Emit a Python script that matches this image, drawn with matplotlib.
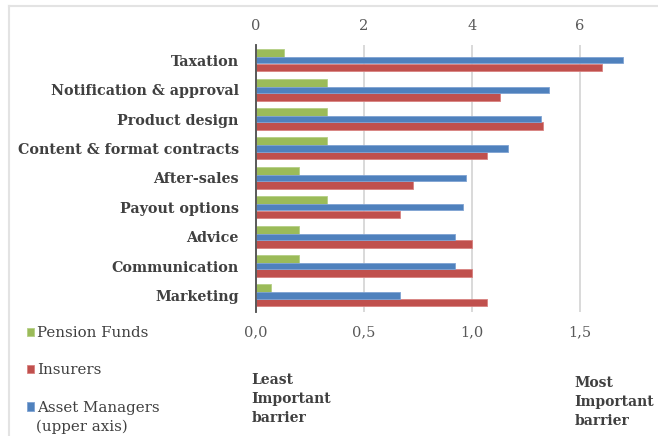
import numpy as np
import matplotlib
matplotlib.use("Agg")
import matplotlib.pyplot as plt
from matplotlib.lines import Line2D
from matplotlib.ticker import FuncFormatter

# barrier scores per provider type (Taxation first)
barriers = ['Taxation', 'Notification & approval', 'Product design',
            'Content & format contracts', 'After-sales', 'Payout options',
            'Advice', 'Communication', 'Marketing']
pension_funds = [0.13, 0.33, 0.33, 0.33, 0.20, 0.33, 0.20, 0.20, 0.07]
insurers = [1.60, 1.13, 1.33, 1.07, 0.73, 0.67, 1.00, 1.00, 1.07]
asset_managers = [6.79, 5.42, 5.28, 4.66, 3.90, 3.84, 3.69, 3.69, 2.67]  # upper axis

lower_ticks = [0.0, 0.5, 1.0, 1.5]
upper_ticks = [0, 2, 4, 6]

green = '#9BBB59'
red = '#C0504D'
blue = '#4F81BD'
label_col = '#404040'
tick_col = '#595959'
serif = 'DejaVu Serif'

fig = plt.figure(figsize=(6.58, 4.36), dpi=100)
ax = fig.add_axes([0.3883, 0.2844, 0.5755, 0.6124])
ax2 = ax.twiny()

y = np.arange(len(barriers))[::-1]

ax.barh(y + 0.24, pension_funds, height=0.28, color=green,
        edgecolor='#B5CF85', linewidth=0.6, label='Pension Funds', zorder=2)
ax.barh(y - 0.24, insurers, height=0.26, color=red,
        edgecolor='#D98280', linewidth=0.6, label='Insurers', zorder=2)
ax2.barh(y, asset_managers, height=0.21, color=blue,
         edgecolor='#7FA3D3', linewidth=0.6, label='Asset Managers', zorder=2)

ax.set_xlim(0, 1.75)
ax2.set_xlim(0, 7)
ax.set_ylim(-0.56, 8.52)

ax.set_yticks(y)
ax.set_yticklabels(barriers, family=serif, fontweight='bold',
                   fontsize=10.3, color=label_col)
ax.tick_params(axis='y', length=0, pad=12)

ax.set_xticks(lower_ticks)
ax.xaxis.set_major_formatter(FuncFormatter(lambda v, p: f'{v:.1f}'.replace('.', ',')))
ax.tick_params(axis='x', length=0, pad=9.5, labelsize=10.5, labelcolor=tick_col)
for t in ax.get_xticklabels():
    t.set_family(serif)

ax2.set_xticks(upper_ticks)
ax2.tick_params(axis='x', length=0, pad=8.5, labelsize=10.5, labelcolor=tick_col)
for t in ax2.get_xticklabels():
    t.set_family(serif)

# gridlines sit on the lower axes so all bars cover them
ax.grid(axis='x', color='#D9D9D9', linewidth=1.4, zorder=0)
ax.set_axisbelow(True)
for a in (ax, ax2):
    for s in ['top', 'right', 'bottom']:
        a.spines[s].set_visible(False)
    a.spines['left'].set_color('#595959')
    a.spines['left'].set_linewidth(1.2)
ax2.patch.set_visible(False)

# legend in the lower-left corner
handles = [ax.patches[0], ax.patches[len(barriers)], ax2.patches[0]]
labels = ['Pension Funds', 'Insurers', 'Asset Managers']
leg = fig.legend(handles, labels, loc='upper left', bbox_to_anchor=(0.041, 0.252),
                 frameon=False, borderpad=0, borderaxespad=0,
                 handlelength=0.5, handleheight=0.5,
                 handletextpad=0.2, labelspacing=1.55,
                 prop={'family': serif, 'size': 10.8})
for t in leg.get_texts():
    t.set_color(label_col)
fig.text(0.055, 0.021, '(upper axis)', family=serif, fontsize=10.8,
         color=label_col, va='center', ha='left')

txt = dict(family=serif, fontweight='bold', fontsize=10,
           color=label_col, va='top', ha='left', linespacing=1.45)
fig.text(0.382, 0.144, 'Least\nImportant\nbarrier', **txt)
fig.text(0.873, 0.137, 'Most\nImportant\nbarrier', **txt)

# outer chart frame (top and left edges)
fig.add_artist(Line2D([0.0137, 1.0], [0.986, 0.986], color='#E3E3E3',
                      linewidth=1.5, transform=fig.transFigure))
fig.add_artist(Line2D([0.0137, 0.0137], [0.0, 0.986], color='#E3E3E3',
                      linewidth=1.5, transform=fig.transFigure))

fig.savefig('out.png', dpi=100)
